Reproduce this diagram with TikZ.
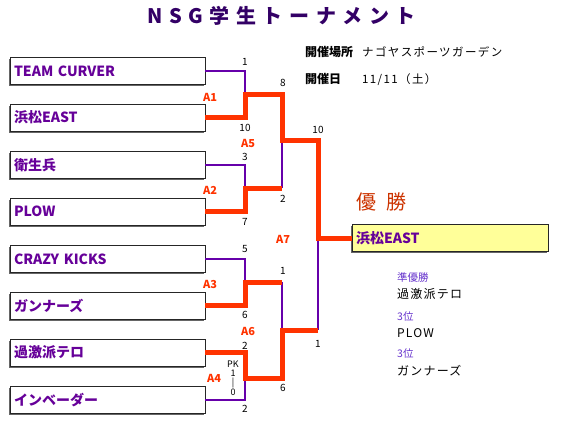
\documentclass[tikz,border=0pt]{standalone}
\usepackage{fontspec}
\setmainfont{Noto Sans CJK JP}
\usepackage{tikz}
\usetikzlibrary{calc}
\definecolor{teamP}{HTML}{660099}
\definecolor{loseP}{HTML}{6600AA}
\definecolor{winR}{HTML}{FF3300}
\definecolor{titleP}{HTML}{330066}
\definecolor{champR}{HTML}{CC3300}
\definecolor{rankP}{HTML}{6633CC}
\definecolor{champY}{HTML}{FFFF99}
\tikzset{
  tbox/.style={rectangle,draw=black!85,line width=0.8pt,fill=white,minimum width=195pt,minimum height=27pt,text width=187pt,inner xsep=4pt,inner ysep=0pt,align=left,font=\fontsize{14}{14}\selectfont\bfseries,text=teamP,preaction={fill=black!60,transform canvas={xshift=-1.3pt,yshift=-1.6pt}}},
  cbox/.style={tbox,fill=champY,minimum width=196pt,text width=188pt,inner xsep=3pt},
  lose/.style={loseP,line width=1.5pt},
  win/.style={winR,line width=5pt,line join=miter},
  score/.style={font=\fontsize{10}{10}\selectfont,inner sep=0pt},
  mlab/.style={font=\fontsize{11}{11}\selectfont\bfseries,text=winR,inner sep=0pt},
  infoh/.style={anchor=west,inner sep=0pt,font=\fontsize{12}{12}\selectfont\bfseries},
  info/.style={anchor=west,inner sep=0pt,font=\fontsize{11.5}{12}\selectfont\addfontfeatures{LetterSpace=12}},
  rank/.style={anchor=west,inner sep=0pt,font=\fontsize{10.5}{11}\selectfont,text=rankP},
  rname/.style={anchor=west,inner sep=0pt,font=\fontsize{12}{12}\selectfont\addfontfeatures{LetterSpace=10}}
}
\newcommand{\jointcoords}{\foreach \j/\jx/\jy in {1/245/94,2/245/188,3/245/282,4/245/378,5/282/140,6/282/330,7/318/238}{\coordinate (m\j) at (\jx,\jy);}}

\begin{document}
\begin{tikzpicture}[x=1pt,y=-1pt]
\useasboundingbox (0,0) rectangle (568,421);
\jointcoords
\node[anchor=west,inner sep=0pt,text=titleP,font=\fontsize{20}{20}\selectfont\bfseries\addfontfeatures{LetterSpace=33}] (title) at (147,16) {NSG学生トーナメント};
\node[infoh] (placeh) at (305,52) {開催場所};
\node[info] (place) at (362,52) {ナゴヤスポーツガーデン};
\node[infoh] (dateh) at (305,79) {開催日};
\node[info] (date) at (362,80) {11/11（土）};
\foreach \i/\ty/\tn in {1/71/TEAM CURVER,2/117.5/浜松EAST,3/165/衛生兵,4/211.5/PLOW,5/259/CRAZY KICKS,6/305.5/ガンナーズ,7/352.5/過激派テロ,8/400/インベーダー}{\node[tbox] (t\i) at (107.5,\ty) {\tn};}
\node[cbox] (champ) at (450,238) {浜松EAST};
\foreach \a/\b in {1/1,3/2,5/3,8/4}{\draw[lose] (t\a.east) -| (m\b);}
\draw[lose] (m2 -| m5) -- (m5);
\draw[lose] (m3 -| m6) -- (m6);
\draw[lose] (m6 -| m7) -- (m7);
\draw[win] (t2.east) -| (m1) -| (m5) -| (m7) -- (champ.west);
\draw[win] (t4.east) -| (m2) -- (m2 -| m5);
\draw[win] (t6.east) -| (m3) -- (m3 -| m6);
\draw[win] (t7.east) -| (m4) -| (m6) -- (m6 -| m7);
\foreach \sx/\sy/\sv [count=\k] in {245/62/1,283/83/8,245/128/10,318/130/10,245/157/3,283/199/2,245/222/7,245/249/5,283/271/1,245/315/6,245/346/2,283/388/6,245/409/2,318/344/1}{\node[score] (sc\k) at (\sx,\sy) {\sv};}
\node[score,align=center,font=\fontsize{9}{9}\selectfont] (pk) at (233,378) {PK\\1\\|\\0};
\foreach \lx/\ly/\lv in {210/97/A1,248/143/A5,210/190/A2,283/239/A7,210/284/A3,248/331/A6,214/378/A4}{\node[mlab] (\lv) at (\lx,\ly) {\lv};}
\node[anchor=west,inner sep=0pt,text=champR,font=\fontsize{20}{20}\selectfont] (yusho) at (356,202) {優\hspace{10pt}勝};
\node[rank] (r2h) at (397,277) {準優勝};
\node[rname] (r2) at (397,294) {過激派テロ};
\node[rank] (r3ah) at (397,317) {3位};
\node[rname] (r3a) at (397,333) {PLOW};
\node[rank] (r3bh) at (397,354) {3位};
\node[rname] (r3b) at (397,371) {ガンナーズ};
\end{tikzpicture}
\end{document}
